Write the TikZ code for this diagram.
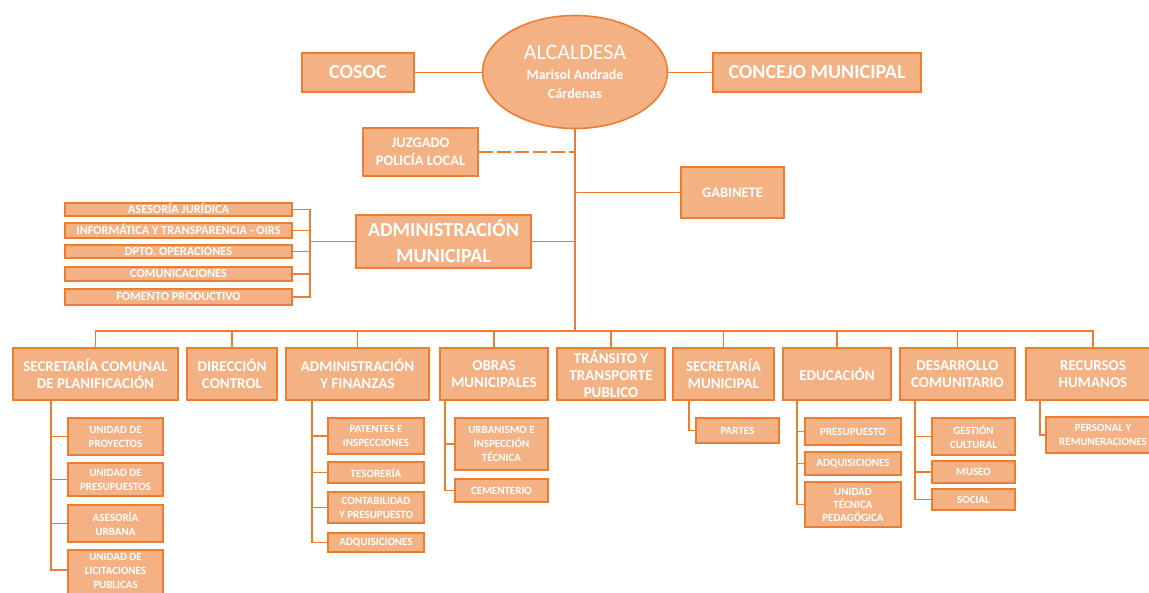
\documentclass[tikz,border=0pt]{standalone}
\usepackage{fontspec}
\setmainfont{Carlito}
\usetikzlibrary{shapes.geometric}
\definecolor{ofill}{HTML}{F4B183}
\definecolor{oline}{HTML}{ED7D31}
\tikzset{
  box/.style={draw=oline,fill=ofill,line width=1.6pt,text=white,inner sep=0pt,align=center},
  conn/.style={draw=oline,line width=1.6pt},
  toptxt/.style={font=\fontsize{20}{22}\selectfont\bfseries},
  midtxt/.style={font=\fontsize{14.5}{18}\selectfont\bfseries},
  amtxt/.style={font=\fontsize{20}{26}\selectfont\bfseries},
  lsttxt/.style={font=\fontsize{12.3}{12}\selectfont\bfseries,text height=8pt,text depth=1pt},
  hdrtxt/.style={font=\fontsize{15}{17}\selectfont\bfseries},
  subtxt/.style={font=\fontsize{11}{14}\selectfont\bfseries},
}
\newcommand\obox[7][]{\node[box,#1,minimum width={#5-#3},minimum height={#6-#4}] (#2) at ({(#3+#5)/2},{(#4+#6)/2}) {#7};}
\begin{document}
\begin{tikzpicture}[x=1pt,y=-1pt]
\useasboundingbox (0,0) rectangle (1149,592);
\clip (0,0) rectangle (1149,592);
% top
\node[box,ellipse,minimum width=185,minimum height=113,font=\fontsize{14}{19.5}\selectfont\bfseries] (alc) at (575,72)
  {{\fontsize{22}{19.5}\selectfont\mdseries ALCALDESA}\\Marisol Andrade\\Cárdenas};
\obox[toptxt]{cosoc}{302}{53}{414}{92}{COSOC}
\obox[toptxt]{concejo}{713}{53}{921}{92}{CONCEJO MUNICIPAL}
\obox[midtxt]{juz}{363}{128}{478}{176}{JUZGADO\\POLICÍA LOCAL}
\obox[midtxt]{gab}{681}{167}{784}{218}{GABINETE}
\obox[amtxt]{am}{356}{215}{531}{268}{ADMINISTRACIÓN\\MUNICIPAL}
% left list
\obox[lsttxt]{l1}{65}{203}{292}{216}{ASESORÍA JURÍDICA}
\obox[lsttxt]{l2}{65}{223}{292}{238}{INFORMÁTICA Y TRANSPARENCIA - OIRS}
\obox[lsttxt]{l3}{65}{245}{292}{258}{DPTO. OPERACIONES}
\obox[lsttxt]{l4}{65}{267}{292}{281}{COMUNICACIONES}
\obox[lsttxt]{l5}{65}{289}{292}{305}{FOMENTO PRODUCTIVO}
% headers
\obox[hdrtxt]{scp}{13}{348}{178}{400}{SECRETARÍA COMUNAL\\DE PLANIFICACIÓN}
\obox[hdrtxt]{dc}{187}{348}{277}{400}{DIRECCIÓN\\CONTROL}
\obox[hdrtxt]{ayf}{286}{348}{429}{400}{ADMINISTRACIÓN\\Y FINANZAS}
\obox[hdrtxt]{obr}{440}{348}{548}{400}{OBRAS\\MUNICIPALES}
\obox[hdrtxt]{tra}{557}{348}{665}{400}{TRÁNSITO Y\\TRANSPORTE\\PUBLICO}
\obox[hdrtxt]{sm}{673}{348}{774}{400}{SECRETARÍA\\MUNICIPAL}
\obox[hdrtxt]{edu}{783}{348}{891}{400}{EDUCACIÓN}
\obox[hdrtxt]{des}{900}{348}{1015}{400}{DESARROLLO\\COMUNITARIO}
\obox[hdrtxt]{rh}{1026}{348}{1160}{400}{RECURSOS\\HUMANOS}
% subs
\obox[subtxt]{u1}{68}{418}{163}{455}{UNIDAD DE\\PROYECTOS}
\obox[subtxt]{u2}{68}{463}{163}{496}{UNIDAD DE\\PRESUPUESTOS}
\obox[subtxt]{u3}{68}{505}{163}{542}{ASESORÍA\\URBANA}
\obox[subtxt]{u4}{68}{550}{163}{606}{UNIDAD DE\\LICITACIONES\\PUBLICAS\\\mbox{}}
\obox[subtxt]{a1}{328}{418}{424}{454}{PATENTES E\\INSPECCIONES}
\obox[subtxt]{a2}{328}{462}{424}{483}{TESORERÍA}
\obox[subtxt]{a3}{328}{492}{424}{523}{CONTABILIDAD\\Y PRESUPUESTO}
\obox[subtxt]{a4}{328}{533}{424}{552}{ADQUISICIONES}
\obox[subtxt]{o1}{455}{418}{548}{470}{URBANISMO E\\INSPECCIÓN\\TÉCNICA}
\obox[subtxt]{o2}{455}{479}{548}{502}{CEMENTERIO}
\obox[subtxt]{p1}{696}{418}{779}{443}{PARTES}
\obox[subtxt]{e1}{805}{418}{901}{445}{PRESUPUESTO}
\obox[subtxt]{e2}{805}{452}{901}{475}{ADQUISICIONES}
\obox[subtxt,font=\fontsize{11}{13}\selectfont\bfseries]{e3}{805}{482}{901}{527}{UNIDAD\\TÉCNICA\\PEDAGÓGICA}
\obox[subtxt]{d1}{932}{418}{1015}{455}{GESTIÓN\\CULTURAL}
\obox[subtxt]{d2}{932}{461}{1015}{483}{MUSEO}
\obox[subtxt]{d3}{932}{489}{1015}{510}{SOCIAL}
\obox[subtxt]{r1}{1046}{417}{1160}{453}{PERSONAL Y\\REMUNERACIONES}
% top connectors
\coordinate (bus) at (575,331);
\draw[conn] (cosoc.east) -- (cosoc.east -| alc.west);
\draw[conn] (concejo.west) -- (concejo.west -| alc.east);
\draw[conn] (alc.south) -- (bus);
\draw[conn,dash pattern=on 14pt off 4pt] (juz.east) -- (juz.east -| alc.south);
\draw[conn] (gab.west) -- (gab.west -| alc.south);
\draw[conn] (am.east) -- (am.east -| alc.south);
% bracket
\coordinate (brk) at (310,241.5);
\draw[conn] (l1.east) -- (l1.east -| brk) -- (l5.east -| brk) -- (l5.east);
\foreach \n in {l2,l3,l4} \draw[conn] (\n.east) -- (\n.east -| brk);
\draw[conn] (brk) -- (am.west);
% bus
\draw[conn] (scp.north) -- (scp.north |- bus) -- (rh.north |- bus) -- (rh.north);
\foreach \n in {dc,ayf,obr,tra,sm,edu,des} \draw[conn] (\n.north) -- (\n.north |- bus);
% sub connectors
\coordinate (scpv) at (51,400);
\draw[conn] (scpv) -- (scpv |- 0,570) -- (u4.west |- 0,570);
\foreach \n in {u1,u2,u3} \draw[conn] (scpv |- \n.west) -- (\n.west);
\coordinate (ayfv) at (312,400);
\draw[conn] (ayfv) |- (a4.west);
\foreach \n in {a1,a2,a3} \draw[conn] (ayfv |- \n.west) -- (\n.west);
\coordinate (obv) at (445,400);
\draw[conn] (obv) |- (o2.west);
\draw[conn] (obv |- o1.west) -- (o1.west);
\coordinate (smv) at (689,400);
\draw[conn] (smv) |- (p1.west);
\coordinate (edv) at (797,400);
\draw[conn] (edv) |- (e3.west);
\foreach \n in {e1,e2} \draw[conn] (edv |- \n.west) -- (\n.west);
\coordinate (dev) at (915,400);
\draw[conn] (dev) |- (d3.west);
\foreach \n in {d1,d2} \draw[conn] (dev |- \n.west) -- (\n.west);
\coordinate (rhv) at (1040,400);
\draw[conn] (rhv) |- (r1.west);
\end{tikzpicture}
\end{document}
